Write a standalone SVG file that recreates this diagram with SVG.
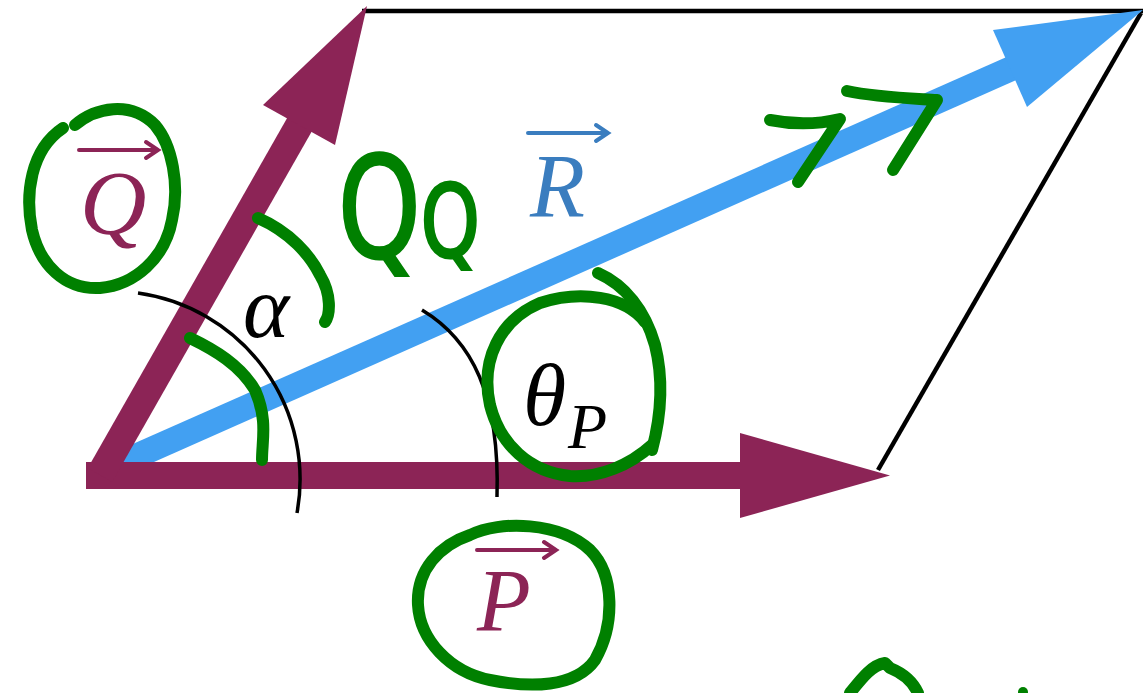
<svg xmlns="http://www.w3.org/2000/svg" width="1145" height="693" viewBox="0 0 1145 693">
<style>
.edge{stroke:#000;stroke-width:4.5;fill:none}
.arc{stroke:#000;stroke-width:3.5;fill:none}
.purple{fill:#8c2456}
.blue{fill:#42a0f2}
.lbl{font-family:"Liberation Serif","Times New Roman",serif;font-style:italic}
.vec{stroke-width:4;fill:none;stroke-linecap:round}
.ink{stroke:#008000;stroke-width:12;fill:none;stroke-linecap:round;stroke-linejoin:round}
.hand{font-family:"DejaVu Sans",sans-serif;fill:#008000;stroke:#008000;stroke-width:3}
</style>
<rect width="1145" height="693" fill="#fff"/>
<g id="parallelogram">
<line class="edge" x1="362" y1="11" x2="1143" y2="11"/>
<line class="edge" x1="1141" y1="13" x2="878" y2="470"/>
</g>
<g id="connectors">
<g id="vector-R">
<line x1="105" y1="470" x2="1015" y2="67" stroke="#42a0f2" stroke-width="25"/>
<polygon class="blue" points="993,30 1143,10 1027,107"/>
</g>
<g id="vector-P">
<rect class="purple" x="86" y="462" width="660" height="27"/>
<polygon class="purple" points="740,433 890,475.5 740,518"/>
</g>
<g id="vector-Q">
<line x1="100" y1="475" x2="305" y2="115" stroke="#8c2456" stroke-width="28"/>
<polygon class="purple" points="263,105 367,6 335,145"/>
</g>
</g>
<g id="angle-alpha">
<path class="arc" d="M138,293 A188,188 0 0 1 297,513"/>
<text class="lbl" x="243" y="337" font-size="88" fill="#000">α</text>
</g>
<g id="angle-thetaP">
<path class="arc" d="M422,310 C472,340 500,395 497,497"/>
<text class="lbl" x="523" y="425" font-size="88" fill="#000">θ</text>
<text class="lbl" x="568" y="448" font-size="64" fill="#000">P</text>
</g>
<g id="label-Q">
<path class="vec" stroke="#8c2456" d="M79,150 H158 M146,142 L158,150 L146,158"/>
<text class="lbl" x="80" y="234" font-size="92" fill="#8c2456">Q</text>
</g>
<g id="label-R">
<path class="vec" stroke="#3a7dbf" d="M528,133 H608 M596,125 L608,133 L596,141"/>
<text class="lbl" x="530" y="217" font-size="90" fill="#3a7dbf">R</text>
</g>
<g id="label-P">
<path class="vec" stroke="#8c2456" d="M477,550 H556 M544,542 L556,550 L544,558"/>
<text class="lbl" x="477" y="630" font-size="88" fill="#8c2456">P</text>
</g>
<g id="annotations">
<path class="ink" d="M75,125 C95,108 130,100 155,125 C172,145 180,185 172,220 C165,258 135,285 100,288 C65,290 40,265 32,230 C25,195 30,150 63,128"/>
<path class="ink" d="M258,218 C290,232 310,255 320,275 C332,295 330,315 325,322"/>
<path class="ink" d="M190,338 C215,350 240,365 255,390 C268,420 262,440 262,460"/>
<path class="ink" d="M598,273 C625,285 645,310 655,345 C665,385 660,420 652,450"/>
<path class="ink" d="M652,445 C630,465 600,478 570,476 C530,472 500,445 490,405 C480,360 500,320 540,303 C580,290 625,296 645,322"/>
<path class="ink" d="M470,535 C500,520 560,522 590,550 C615,575 615,625 595,660 C575,688 530,688 490,680 C450,672 420,640 418,605 C416,570 440,545 470,535"/>
<path class="ink" d="M770,120 C790,124 815,125 840,119 L798,182"/>
<path class="ink" d="M847,91 C875,97 905,98 937,100 L893,170"/>
<path class="ink" d="M850,693 C862,678 872,665 885,663 L890,668 C900,672 912,680 918,693"/>
<circle cx="1023" cy="692" r="5" fill="#008000"/>
<text class="hand" transform="translate(338,257) scale(0.75,1)" font-size="140">Q<tspan font-size="100">Q</tspan></text>
</g>
</svg>
